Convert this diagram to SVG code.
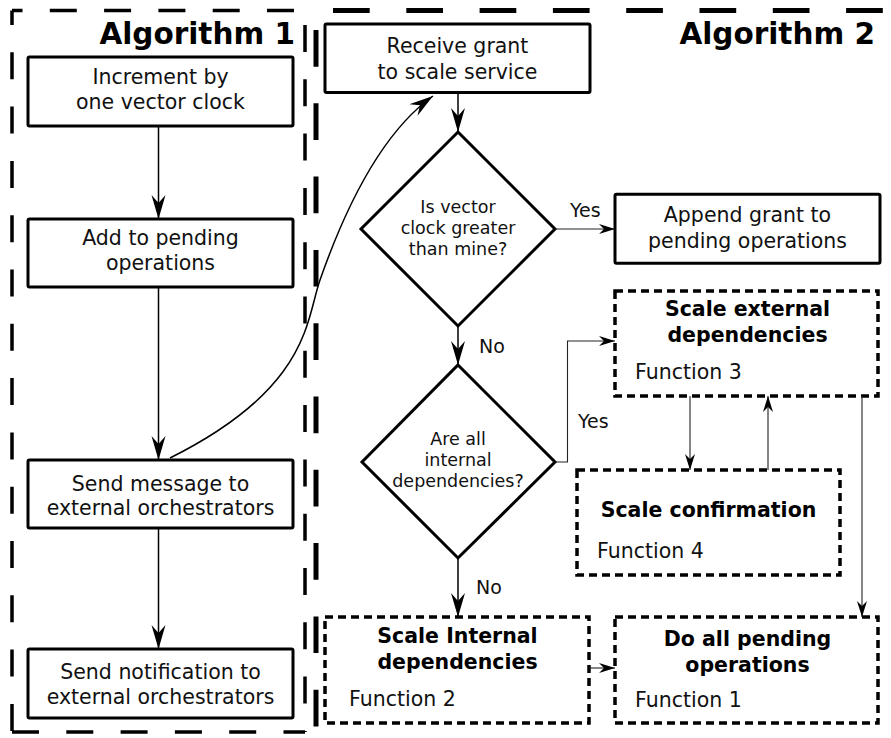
<svg xmlns="http://www.w3.org/2000/svg" width="891" height="738" viewBox="0 0 891 738">
<defs>
<style>
text { font-family: "DejaVu Sans", "Liberation Sans", sans-serif; fill: #000; }
.t { font-size: 20.5px; text-anchor: middle; fill: #111; }
.b { font-size: 20.5px; font-weight: bold; text-anchor: middle; }
.f { font-size: 20.5px; fill: #111; }
.d { font-size: 17.5px; text-anchor: middle; fill: #111; }
.l { font-size: 19px; fill: #111; }
.h { font-size: 29.5px; font-weight: bold; text-anchor: end; }
.box { fill: #fff; stroke: #000; stroke-width: 3; }
.fbox { fill: #fff; stroke: #000; stroke-width: 3.5; stroke-dasharray: 8 5; }
.dia { fill: #fff; stroke: #000; stroke-width: 3; stroke-linejoin: miter; }
.c1 { fill: none; stroke: #000; stroke-width: 1.5; marker-end: url(#big); }
.c2 { fill: none; stroke: #222; stroke-width: 1.1; marker-end: url(#small); }
.g1 { fill: none; stroke: #000; stroke-width: 3.5; stroke-dasharray: 27 27.3; }
.g2 { fill: none; stroke: #000; stroke-width: 5; stroke-dasharray: 36.7 36.6; }
</style>
<marker id="big" markerUnits="userSpaceOnUse" markerWidth="30" markerHeight="20" viewBox="-27 -10 30 20" refX="0" refY="0" orient="auto" overflow="visible">
<path d="M0,0 L-24,-7 L-16,0 L-24,7 Z" fill="#000"/>
</marker>
<marker id="small" markerUnits="userSpaceOnUse" markerWidth="20" markerHeight="14" viewBox="-18 -7 20 14" refX="0" refY="0" orient="auto" overflow="visible">
<path d="M0,0 L-16,-5 L-11,0 L-16,5 Z" fill="#000"/>
</marker>
</defs>
<rect width="891" height="738" fill="#fff"/>

<g id="algorithm1-frame">
<line class="g1" x1="12" y1="10.5" x2="12" y2="732" stroke-dashoffset="12.5"/>
<line class="g1" x1="12" y1="10.5" x2="305" y2="10.5" stroke-dashoffset="16.5"/>
<line class="g1" x1="305" y1="25" x2="305" y2="732"/>
<line class="g1" x1="12" y1="732" x2="305" y2="732"/>
<text class="h" x="295" y="43.5">Algorithm 1</text>
</g>

<g id="algorithm2-frame">
<line class="g2" x1="316" y1="10.5" x2="891" y2="10.5" stroke-dashoffset="56.3"/>
<line class="g2" x1="316" y1="30" x2="316" y2="738"/>
<text class="h" x="875" y="43.5">Algorithm 2</text>
</g>

<g id="n-increment">
<rect class="box" x="28" y="57" width="265" height="69" rx="1.5"/>
<text class="t" x="160.5" y="84.3">Increment by</text>
<text class="t" x="160.5" y="109.3">one vector clock</text>
</g>
<g id="n-add-pending">
<rect class="box" x="28" y="219" width="265" height="68" rx="1.5"/>
<text class="t" x="160.5" y="245">Add to pending</text>
<text class="t" x="160.5" y="270">operations</text>
</g>
<g id="n-send-message">
<rect class="box" x="28" y="460" width="265" height="68" rx="1.5"/>
<text class="t" x="160.5" y="490.7">Send message to</text>
<text class="t" x="160.5" y="515">external orchestrators</text>
</g>
<g id="n-send-notification">
<rect class="box" x="28" y="649" width="265" height="69" rx="1.5"/>
<text class="t" x="160.5" y="679">Send notification to</text>
<text class="t" x="160.5" y="704.3">external orchestrators</text>
</g>

<g id="n-receive-grant">
<rect class="box" x="325" y="24" width="265" height="68.5" rx="1.5"/>
<text class="t" x="457.5" y="53.3">Receive grant</text>
<text class="t" x="457.5" y="79">to scale service</text>
</g>
<g id="n-decision-clock">
<polygon class="dia" points="458,132 555,229 458,326 361,229"/>
<text class="d" x="458" y="213">Is vector</text>
<text class="d" x="458" y="234">clock greater</text>
<text class="d" x="458" y="255">than mine?</text>
</g>
<g id="n-append-grant">
<rect class="box" x="615" y="194.3" width="265" height="69" rx="1.5"/>
<text class="t" x="747.5" y="221.7">Append grant to</text>
<text class="t" x="747.5" y="247.5">pending operations</text>
</g>
<g id="n-decision-internal">
<polygon class="dia" points="458,365 555,462 458,558 362,462"/>
<text class="d" x="458" y="445">Are all</text>
<text class="d" x="458" y="466">internal</text>
<text class="d" x="458" y="487">dependencies?</text>
</g>
<g id="n-scale-external">
<rect class="fbox" x="615" y="291" width="263" height="105"/>
<text class="b" x="747.5" y="316">Scale external</text>
<text class="b" x="747.5" y="342">dependencies</text>
<text class="f" x="635" y="379">Function 3</text>
</g>
<g id="n-scale-confirmation">
<rect class="fbox" x="577" y="470" width="263" height="105"/>
<text class="b" x="708.5" y="517">Scale confirmation</text>
<text class="f" x="597" y="558">Function 4</text>
</g>
<g id="n-scale-internal">
<rect class="fbox" x="325" y="617" width="264" height="106"/>
<text class="b" x="457.5" y="643">Scale Internal</text>
<text class="b" x="457.5" y="669">dependencies</text>
<text class="f" x="349" y="706">Function 2</text>
</g>
<g id="n-do-pending">
<rect class="fbox" x="615" y="617" width="263" height="106"/>
<text class="b" x="747.5" y="646">Do all pending</text>
<text class="b" x="747.5" y="672">operations</text>
<text class="f" x="635" y="707">Function 1</text>
</g>

<g id="connectors">
<path class="c1" d="M158.5,126 V219"/>
<path class="c1" d="M158.5,287 V460"/>
<path class="c1" d="M158.5,528 V649"/>
<path class="c1" d="M170,458 C310,388 306,320 320,280 C341,220 377,136 433,96"/>
<path class="c1" d="M458,92.5 V132"/>
<path class="c1" d="M458,326 V365"/>
<path class="c1" d="M458,558 V617"/>
<path class="c2" d="M555,229 H615"/>
<path class="c2" d="M555,462 H567.5 V341 H615"/>
<path class="c2" d="M690,396 V470"/>
<path class="c2" d="M768,470 V396"/>
<path class="c2" d="M862,396 V617"/>
<path class="c2" d="M589,668 H615"/>
<text class="l" x="570" y="217">Yes</text>
<text class="l" x="479" y="353.3">No</text>
<text class="l" x="578" y="427.7">Yes</text>
<text class="l" x="476" y="594">No</text>
</g>
</svg>
